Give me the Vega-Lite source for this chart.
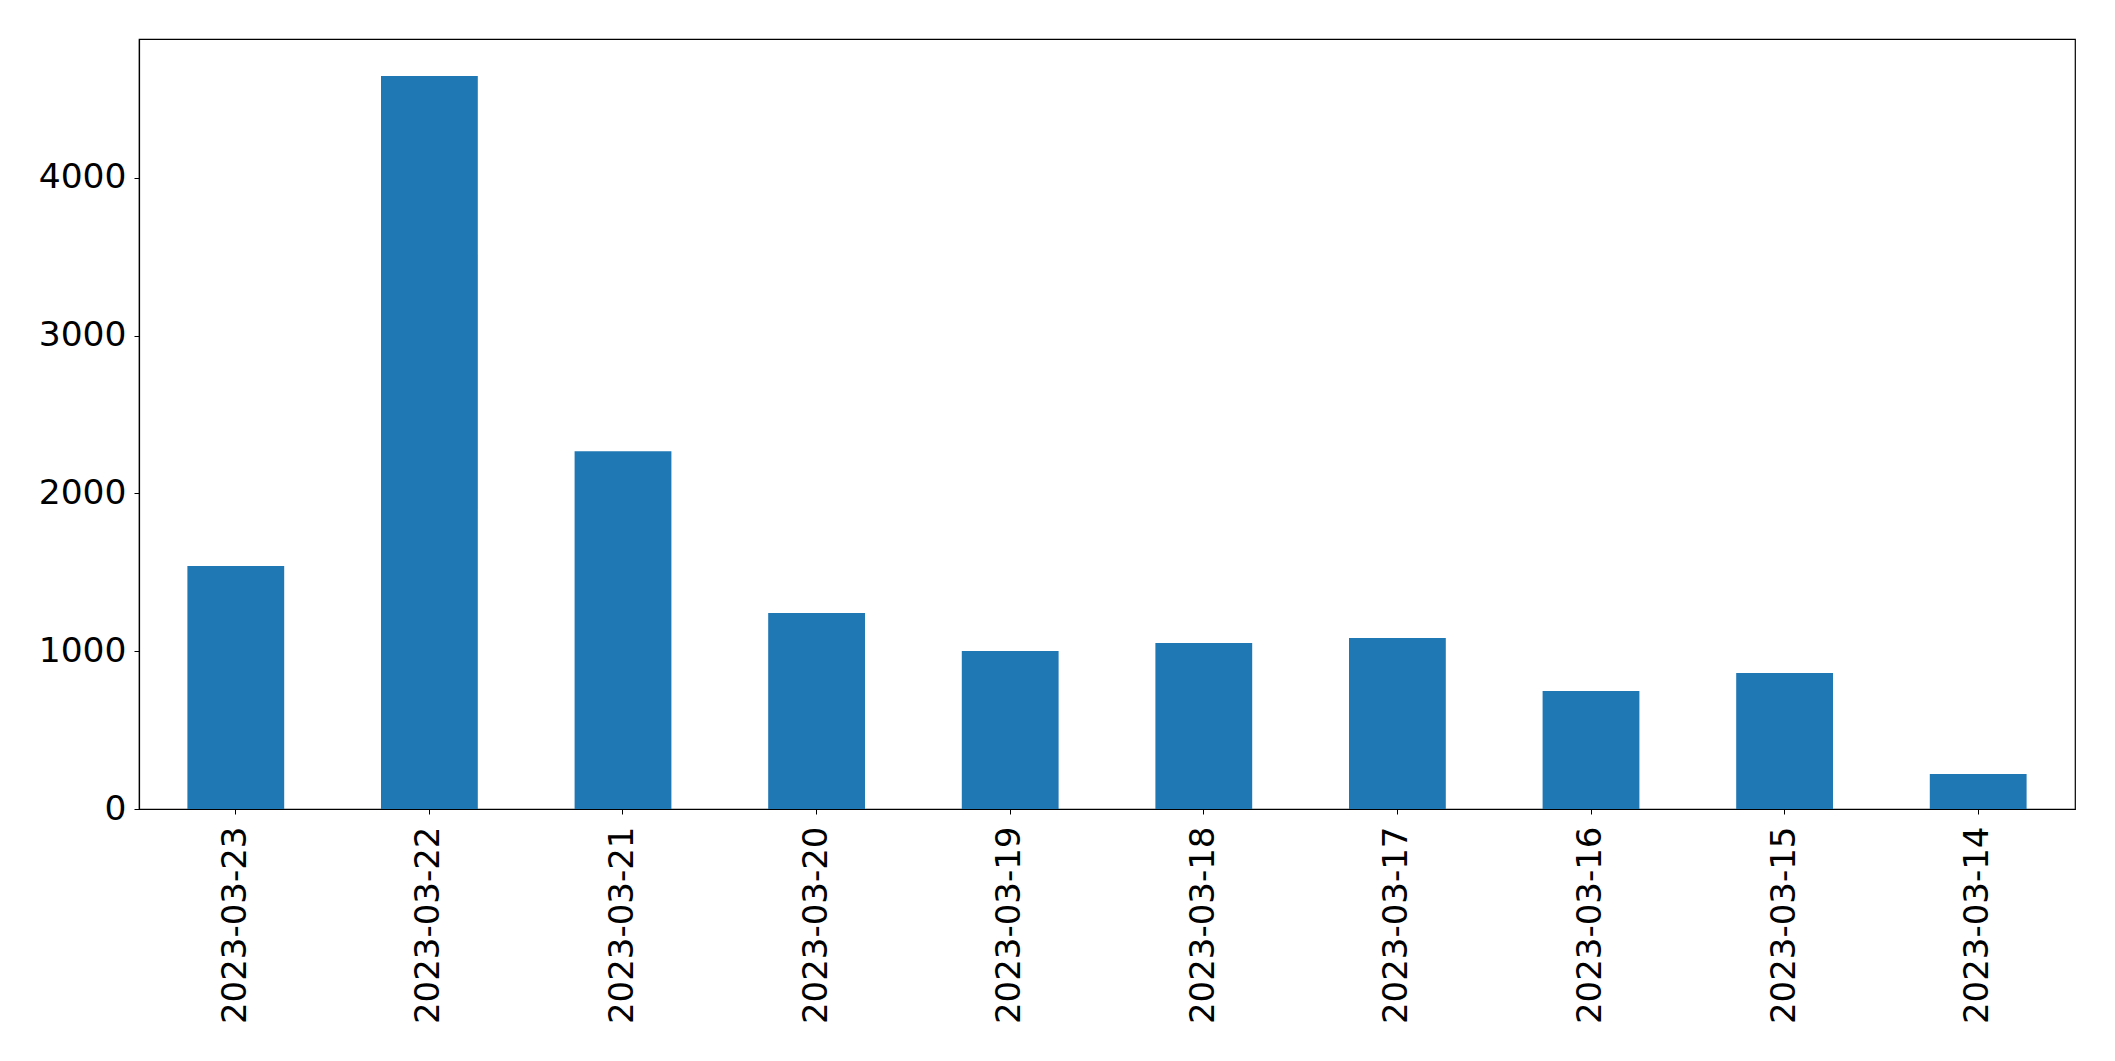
{
  "$schema": "https://vega.github.io/schema/vega-lite/v6.json",
  "autosize": "none",
  "width": 1936,
  "height": 770,
  "padding": {"left": 139, "top": 39, "right": 40, "bottom": 252},
  "background": "white",
  "config": {
    "view": {"stroke": "black", "strokeWidth": 1.2},
    "font": "DejaVu Sans"
  },
  "data": {
    "values": [
      {"date": "2023-03-23", "count": 1540},
      {"date": "2023-03-22", "count": 4646},
      {"date": "2023-03-21", "count": 2268},
      {"date": "2023-03-20", "count": 1242},
      {"date": "2023-03-19", "count": 1001},
      {"date": "2023-03-18", "count": 1052},
      {"date": "2023-03-17", "count": 1083},
      {"date": "2023-03-16", "count": 748},
      {"date": "2023-03-15", "count": 862},
      {"date": "2023-03-14", "count": 222}
    ]
  },
  "mark": {"type": "bar", "color": "#1f77b4"},
  "encoding": {
    "x": {
      "field": "date",
      "type": "nominal",
      "sort": null,
      "title": null,
      "scale": {"paddingInner": 0.5, "paddingOuter": 0.25},
      "axis": {
        "labelAngle": -90,
        "labelAlign": "right",
        "labelBaseline": "middle",
        "labelFont": "DejaVu Sans",
        "labelFontSize": 34,
        "labelLimit": 0,
        "labelColor": "black",
        "labelPadding": 12,
        "tickColor": "black",
        "tickSize": 5,
        "domainColor": "black",
        "domainWidth": 1.2,
        "grid": false
      }
    },
    "y": {
      "field": "count",
      "type": "quantitative",
      "title": null,
      "scale": {"domain": [0, 4880], "nice": false, "zero": true},
      "axis": {
        "values": [0, 1000, 2000, 3000, 4000],
        "format": "d",
        "labelFont": "DejaVu Sans",
        "labelFontSize": 34.5,
        "labelColor": "black",
        "labelPadding": 8,
        "tickColor": "black",
        "tickSize": 5,
        "domainColor": "black",
        "domainWidth": 1.2,
        "grid": false
      }
    }
  }
}
